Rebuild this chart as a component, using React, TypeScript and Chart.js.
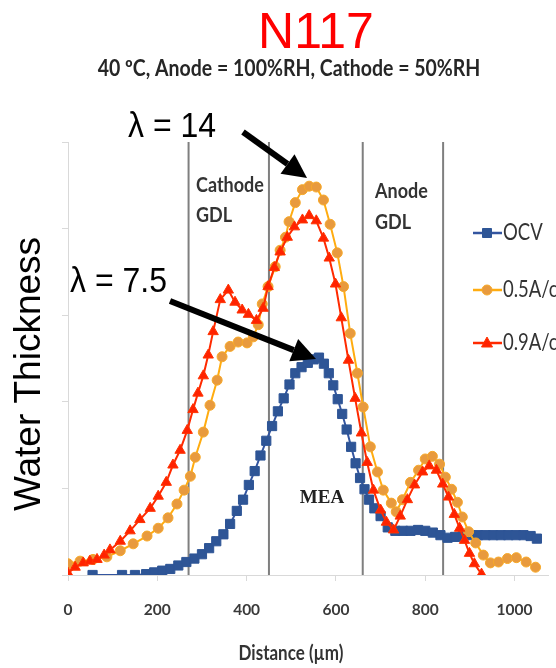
import React, { useEffect, useRef } from 'react';
import { Chart, registerables } from 'chart.js';
Chart.register(...registerables);

const titleText = 'N117';
const subtitleText = '40 ºC, Anode = 100%RH, Cathode = 50%RH';
const xAxisTitle = 'Distance (µm)';
const yAxisTitle = 'Water Thickness';
const seriesLabels = ['OCV', '0.5A/cm²', '0.9A/cm²'];
const xTickValues = [0, 200, 400, 600, 800, 1000];
const yTickValues = [0, 1, 2, 3, 4, 5];
const boundaryPositions = [270, 450, 660, 840];

const ocvPoints: [number, number][] = [
  [55, 0], [121, 0], [150, 0], [175, 0.01], [193, 0.03], [211, 0.05], [229, 0.07], [247, 0.11], [265, 0.15],
  [283, 0.19], [300, 0.24], [316, 0.31], [332, 0.39], [348, 0.47], [363, 0.59], [378, 0.74], [392, 0.87],
  [405, 1.04], [418, 1.2], [431, 1.38], [444, 1.55], [457, 1.72], [470, 1.89], [483, 2.04], [496, 2.2],
  [509, 2.33], [523, 2.4], [537, 2.45], [550, 2.49], [562, 2.51], [573, 2.44], [584, 2.33], [594, 2.19],
  [604, 2.03], [614, 1.86], [624, 1.68], [634, 1.48], [644, 1.29], [654, 1.12], [664, 0.99], [674, 0.87],
  [686, 0.77], [700, 0.68], [716, 0.55], [733, 0.51], [750, 0.51], [767, 0.51], [784, 0.52], [800, 0.51],
  [817, 0.49], [834, 0.46], [850, 0.43], [867, 0.44], [884, 0.45], [901, 0.46], [918, 0.46], [935, 0.46],
  [952, 0.46], [969, 0.46], [986, 0.46], [1003, 0.46], [1020, 0.46], [1036, 0.45], [1050, 0.42],
];

const halfAmpPoints: [number, number][] = [
  [0, 0.13], [27, 0.16], [56, 0.18], [87, 0.21], [117, 0.28], [146, 0.36], [177, 0.45], [202, 0.54],
  [224, 0.66], [244, 0.82], [260, 0.98], [274, 1.14], [285, 1.36], [303, 1.65], [318, 1.96], [334, 2.25],
  [345, 2.52], [363, 2.64], [381, 2.69], [401, 2.68], [415, 2.75], [426, 2.89], [435, 3.13], [448, 3.33],
  [464, 3.56], [475, 3.75], [487, 3.9], [495, 4.08], [509, 4.3], [525, 4.45], [540, 4.49], [556, 4.48],
  [572, 4.33], [587, 4.05], [603, 3.72], [617, 3.33], [632, 2.79], [648, 2.33], [661, 1.94], [677, 1.48],
  [693, 1.19], [706, 0.98], [724, 0.83], [735, 0.73], [749, 0.87], [767, 1.07], [785, 1.21], [800, 1.34],
  [816, 1.37], [832, 1.28], [845, 1.13], [859, 0.99], [872, 0.84], [883, 0.67], [897, 0.5], [913, 0.37],
  [930, 0.23], [946, 0.14], [964, 0.15], [984, 0.19], [1004, 0.2], [1026, 0.15], [1047, 0.09],
];

const highAmpPoints: [number, number][] = [
  [0, 0.02], [16, 0.09], [34, 0.14], [49, 0.16], [65, 0.18], [81, 0.23], [94, 0.29], [117, 0.39],
  [139, 0.51], [161, 0.64], [184, 0.77], [202, 0.91], [220, 1.07], [235, 1.27], [251, 1.44], [267, 1.67],
  [280, 1.91], [291, 2.1], [303, 2.3], [314, 2.54], [325, 2.81], [341, 3.18], [359, 3.29], [374, 3.15],
  [390, 3.06], [404, 3.01], [422, 2.94], [437, 3.08], [448, 3.33], [462, 3.55], [475, 3.73], [491, 3.9],
  [507, 4.02], [525, 4.1], [540, 4.15], [556, 4.09], [572, 3.89], [585, 3.66], [599, 3.36], [612, 2.97],
  [628, 2.48], [643, 2.04], [657, 1.64], [670, 1.3], [684, 0.98], [700, 0.75], [713, 0.61], [729, 0.52],
  [744, 0.68], [760, 0.87], [776, 1.04], [794, 1.19], [809, 1.26], [825, 1.21], [839, 1.05], [852, 0.9],
  [865, 0.7], [877, 0.54], [888, 0.4], [899, 0.25], [910, 0.13], [926, 0.01],
];

const toXY = (pts: [number, number][]) => pts.map(([x, y]) => ({ x, y }));

const SANS = '"Liberation Sans", Arial, sans-serif';
const CAL = 'Lato, "Open Sans", sans-serif';

function drawText(ctx: CanvasRenderingContext2D, text: string, x: number, y: number, font: string,
  color: string, align: CanvasTextAlign = 'left', sy = 1, baseline: CanvasTextBaseline = 'alphabetic') {
  ctx.save();
  ctx.translate(x, y);
  ctx.scale(1, sy);
  ctx.font = font;
  ctx.fillStyle = color;
  ctx.textAlign = align;
  ctx.textBaseline = baseline;
  ctx.fillText(text, 0, 0);
  ctx.restore();
}

function drawArrow(ctx: CanvasRenderingContext2D, x1: number, y1: number, x2: number, y2: number) {
  const ang = Math.atan2(y2 - y1, x2 - x1);
  const headLen = 24;
  const headHalf = 12;
  const bx = x2 - headLen * Math.cos(ang);
  const by = y2 - headLen * Math.sin(ang);
  ctx.save();
  ctx.strokeStyle = '#000';
  ctx.fillStyle = '#000';
  ctx.lineWidth = 6;
  ctx.beginPath();
  ctx.moveTo(x1, y1);
  ctx.lineTo(bx, by);
  ctx.stroke();
  ctx.beginPath();
  ctx.moveTo(x2, y2);
  ctx.lineTo(bx + headHalf * Math.sin(ang), by - headHalf * Math.cos(ang));
  ctx.lineTo(bx - headHalf * Math.sin(ang), by + headHalf * Math.cos(ang));
  ctx.closePath();
  ctx.fill();
  ctx.restore();
}

const decorPlugin = {
  id: 'decor',
  afterDraw(chart: any) {
    const ctx: CanvasRenderingContext2D = chart.ctx;
    // titles
    drawText(ctx, titleText, 316, 48, `50px ${SANS}`, '#ff0000', 'center');
    drawText(ctx, subtitleText, 289, 76, `bold 19.5px ${CAL}`, '#262626', 'center', 1.12);
    // axis titles
    drawText(ctx, xAxisTitle, 291, 660, `bold 17px ${CAL}`, '#333333', 'center', 1.2);
    ctx.save();
    ctx.translate(30, 374);
    ctx.rotate(-Math.PI / 2);
    drawText(ctx, yAxisTitle, 0, 0, `37px ${SANS}`, '#000000', 'center', 1, 'middle');
    ctx.restore();
    // region labels
    const regionFont = `bold 18px ${CAL}`;
    drawText(ctx, 'Cathode', 196, 192, regionFont, '#333333', 'left', 1.2);
    drawText(ctx, 'GDL', 196, 222, regionFont, '#333333', 'left', 1.2);
    drawText(ctx, 'Anode', 375, 198, regionFont, '#333333', 'left', 1.2);
    drawText(ctx, 'GDL', 375, 229, regionFont, '#333333', 'left', 1.2);
    drawText(ctx, 'MEA', 322, 503, `bold 19px "Liberation Serif", "Times New Roman", serif`, '#222222', 'center');
    // lambda annotations
    drawText(ctx, 'λ = 14', 128, 137, `32px ${SANS}`, '#000000', 'left', 1.12);
    drawText(ctx, 'λ = 7.5', 70, 292, `32px ${SANS}`, '#000000', 'left', 1.12);
    drawArrow(ctx, 243, 132, 307, 178);
    drawArrow(ctx, 170, 301, 316, 359);
    // legend
    const legendY = [233, 290, 343];
    const series = chart.data.datasets.slice(0, 3);
    const order = [2, 1, 0];
    order.forEach((di, i) => {
      const ds = series[di];
      const y = legendY[i];
      ctx.save();
      ctx.strokeStyle = ds.borderColor;
      ctx.lineWidth = 2.5;
      ctx.beginPath();
      ctx.moveTo(473, y);
      ctx.lineTo(502, y);
      ctx.stroke();
      ctx.restore();
      ctx.save();
      ctx.fillStyle = ds.pointBackgroundColor;
      ctx.strokeStyle = ds.pointBorderColor;
      ctx.lineWidth = 1;
      const cx = 487;
      ctx.beginPath();
      if (ds.pointStyle === 'rect') {
        ctx.rect(cx - 4.5, y - 4.5, 9, 9);
      } else if (ds.pointStyle === 'circle') {
        ctx.arc(cx, y, 5, 0, Math.PI * 2);
      } else {
        ctx.moveTo(cx, y - 6);
        ctx.lineTo(cx + 5.5, y + 4);
        ctx.lineTo(cx - 5.5, y + 4);
        ctx.closePath();
      }
      ctx.fill();
      ctx.stroke();
      ctx.restore();
      drawText(ctx, ds.label, 503, y, `18.5px ${CAL}`, '#333333', 'left', 1.2, 'middle');
    });
  },
};

export default function App() {
  const ref = useRef<HTMLCanvasElement>(null);
  useEffect(() => {
    if (!ref.current) return;
    const boundaryDatasets = boundaryPositions.map((bx) => ({
      label: 'boundary',
      data: [{ x: bx, y: 0 }, { x: bx, y: 5 }],
      borderColor: '#7f7f7f',
      borderWidth: 2,
      pointRadius: 0,
      order: 5,
    }));
    const chart = new Chart(ref.current, {
      type: 'line',
      data: {
        datasets: [
          {
            label: seriesLabels[2],
            data: toXY(highAmpPoints),
            borderColor: '#ff2a00',
            borderWidth: 2,
            pointStyle: 'triangle',
            pointRadius: 6,
            pointBackgroundColor: '#ff2200',
            pointBorderColor: '#ff3300',
            pointBorderWidth: 1,
            order: 0,
          },
          {
            label: seriesLabels[1],
            data: toXY(halfAmpPoints),
            borderColor: '#ffac10',
            borderWidth: 2,
            pointStyle: 'circle',
            pointRadius: 5,
            pointBackgroundColor: '#e89a3e',
            pointBorderColor: '#f7a928',
            pointBorderWidth: 1,
            order: 1,
          },
          {
            label: seriesLabels[0],
            data: toXY(ocvPoints),
            borderColor: '#3355a0',
            borderWidth: 2,
            pointStyle: 'rect',
            pointRadius: 6.5,
            pointBackgroundColor: '#2e5596',
            pointBorderColor: '#2e5596',
            pointBorderWidth: 1,
            order: 2,
          },
          ...boundaryDatasets,
        ] as any,
      },
      options: {
        responsive: false,
        animation: false,
        devicePixelRatio: 1,
        layout: { padding: { top: 142, left: 0, right: 0, bottom: 0 } },
        plugins: {
          legend: { display: false },
          title: { display: false },
          tooltip: { enabled: false },
        },
        scales: {
          x: {
            type: 'linear',
            min: 0,
            max: 1076,
            afterBuildTicks: (s: any) => {
              s.ticks = xTickValues.map((v) => ({ value: v }));
            },
            afterFit: (s: any) => {
              s.height = 93;
            },
            grid: { display: true, drawOnChartArea: false, drawTicks: true, tickLength: 6, color: '#d9d9d9' },
            border: { display: true, color: '#d9d9d9', width: 1 },
            ticks: {
              font: { family: 'Lato, "Open Sans", sans-serif', size: 15.5, weight: 'bold' },
              color: '#3a3a3a',
              padding: 20,
              maxRotation: 0,
              autoSkip: false,
              callback: (v: any) => String(v),
            },
          },
          y: {
            type: 'linear',
            min: 0,
            max: 5,
            afterBuildTicks: (s: any) => {
              s.ticks = yTickValues.map((v) => ({ value: v }));
            },
            afterFit: (s: any) => {
              s.width = 68;
            },
            grid: { display: true, drawOnChartArea: false, drawTicks: true, tickLength: 6, color: '#d9d9d9' },
            border: { display: true, color: '#d9d9d9', width: 1 },
            ticks: { display: false },
          },
        },
      } as any,
      plugins: [decorPlugin],
    });
    return () => chart.destroy();
  }, []);
  return (
    <div style={{ position: 'absolute', left: 0, top: 0, width: 556, height: 668, background: '#fff' }}>
      <canvas ref={ref} width={556} height={668} style={{ display: 'block' }} />
    </div>
  );
}
